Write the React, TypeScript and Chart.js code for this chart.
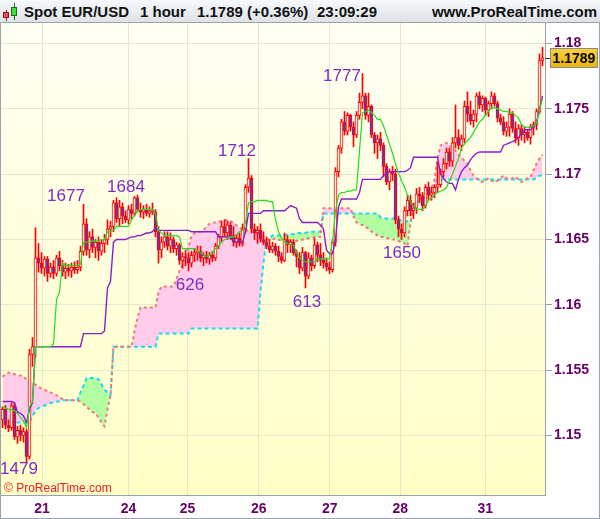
import React, { useEffect, useRef } from "react";
import { Chart, registerables } from "chart.js";

Chart.register(...registerables);

// Prices are written in 1/10000 units above 1.0000 (1523 means 1.1523).
const openPts = [
  1512, 1520, 1508, 1506, 1523, 1499, 1504, 1500, 1503, 1484,
  1562, 1568, 1636, 1632, 1628, 1635, 1624, 1629, 1624, 1636,
  1630, 1625, 1628, 1626, 1629, 1627, 1629, 1641, 1662, 1642,
  1652, 1644, 1648, 1641, 1647, 1650, 1658, 1660, 1678, 1666,
  1675, 1668, 1665, 1673, 1670, 1682, 1673, 1671, 1673, 1670,
  1672, 1671, 1656, 1642, 1648, 1652, 1645, 1650, 1643, 1646,
  1634, 1637, 1636, 1632, 1638, 1640, 1641, 1636, 1638, 1635,
  1638, 1636, 1645, 1652, 1660, 1655, 1661, 1653, 1648, 1651,
  1647, 1658, 1690, 1697, 1658, 1655, 1657, 1650, 1648, 1645,
  1642, 1645, 1641, 1637, 1634, 1650, 1646, 1648, 1640, 1637,
  1628, 1640, 1622, 1636, 1630, 1646, 1638, 1634, 1632, 1629,
  1627, 1648, 1702, 1720, 1740, 1733, 1745, 1736, 1730, 1745,
  1755, 1760, 1745, 1752, 1730, 1724, 1727, 1722, 1706, 1694,
  1702, 1700, 1665, 1658, 1655, 1672, 1680, 1672, 1674, 1685,
  1683, 1676, 1690, 1684, 1686, 1690, 1692, 1702, 1708, 1717,
  1710, 1724, 1728, 1722, 1727, 1752, 1746, 1741, 1746, 1760,
  1753, 1758, 1749, 1754, 1760, 1754, 1743, 1740, 1733, 1736,
  1746, 1735, 1728, 1735, 1730, 1732, 1728, 1736, 1738, 1748,
  1787,
];
const highPts = [
  1522, 1523, 1512, 1525, 1525, 1507, 1508, 1506, 1505, 1566,
  1575, 1659, 1647, 1640, 1637, 1637, 1632, 1634, 1638, 1641,
  1634, 1632, 1631, 1632, 1633, 1634, 1645, 1677, 1666, 1656,
  1658, 1650, 1652, 1650, 1654, 1665, 1664, 1680, 1682, 1680,
  1678, 1672, 1676, 1677, 1683, 1684, 1678, 1676, 1677, 1675,
  1678, 1673, 1660, 1652, 1656, 1656, 1655, 1652, 1648, 1647,
  1640, 1642, 1640, 1641, 1643, 1645, 1645, 1640, 1641, 1640,
  1641, 1647, 1654, 1664, 1665, 1664, 1663, 1660, 1654, 1655,
  1662, 1692, 1712, 1699, 1662, 1660, 1662, 1656, 1652, 1650,
  1648, 1647, 1645, 1640, 1655, 1653, 1650, 1650, 1642, 1640,
  1644, 1641, 1640, 1638, 1651, 1648, 1647, 1640, 1636, 1633,
  1650, 1705, 1722, 1742, 1748, 1747, 1746, 1740, 1748, 1762,
  1777, 1762, 1762, 1753, 1732, 1730, 1732, 1724, 1708, 1704,
  1706, 1704, 1668, 1662, 1675, 1684, 1684, 1678, 1689, 1690,
  1686, 1692, 1694, 1690, 1692, 1709, 1704, 1712, 1720, 1720,
  1728, 1753, 1734, 1730, 1756, 1763, 1756, 1749, 1762, 1763,
  1760, 1759, 1756, 1763, 1762, 1756, 1746, 1744, 1740, 1750,
  1748, 1740, 1738, 1738, 1736, 1734, 1738, 1740, 1750, 1792,
  1797,
];
const lowPts = [
  1506, 1505, 1503, 1504, 1497, 1494, 1496, 1495, 1479, 1482,
  1553, 1560, 1625, 1624, 1622, 1618, 1621, 1620, 1622, 1626,
  1622, 1620, 1622, 1621, 1624, 1624, 1626, 1638, 1638, 1636,
  1640, 1636, 1634, 1638, 1640, 1646, 1652, 1656, 1663, 1660,
  1662, 1663, 1662, 1666, 1668, 1671, 1667, 1666, 1668, 1667,
  1669, 1652, 1632, 1636, 1644, 1642, 1640, 1640, 1638, 1631,
  1628, 1630, 1626, 1629, 1633, 1634, 1633, 1630, 1632, 1631,
  1633, 1634, 1643, 1648, 1652, 1650, 1650, 1645, 1644, 1645,
  1645, 1655, 1686, 1655, 1650, 1647, 1648, 1646, 1643, 1640,
  1640, 1638, 1633, 1632, 1633, 1640, 1640, 1638, 1629, 1624,
  1626, 1613, 1620, 1626, 1628, 1633, 1630, 1628, 1626, 1624,
  1625, 1645, 1698, 1716, 1730, 1730, 1733, 1721, 1728, 1742,
  1750, 1742, 1740, 1728, 1716, 1712, 1718, 1698, 1692, 1688,
  1695, 1662, 1652, 1650, 1652, 1668, 1668, 1666, 1670, 1678,
  1672, 1674, 1680, 1680, 1682, 1686, 1690, 1698, 1704, 1706,
  1706, 1720, 1719, 1718, 1724, 1740, 1738, 1736, 1740, 1750,
  1748, 1745, 1744, 1750, 1752, 1740, 1738, 1730, 1729, 1729,
  1732, 1724, 1722, 1726, 1724, 1726, 1723, 1730, 1734, 1746,
  1783,
];
const closePts = [
  1520, 1508, 1506, 1523, 1499, 1504, 1500, 1503, 1484, 1562,
  1568, 1636, 1632, 1628, 1635, 1624, 1629, 1624, 1636, 1630,
  1625, 1628, 1626, 1629, 1627, 1629, 1641, 1662, 1642, 1652,
  1644, 1648, 1641, 1647, 1650, 1658, 1660, 1678, 1666, 1675,
  1668, 1665, 1673, 1670, 1682, 1673, 1671, 1673, 1670, 1672,
  1671, 1656, 1642, 1648, 1652, 1645, 1650, 1643, 1646, 1634,
  1637, 1636, 1632, 1638, 1640, 1641, 1636, 1638, 1635, 1638,
  1636, 1645, 1652, 1660, 1655, 1661, 1653, 1648, 1651, 1647,
  1658, 1690, 1697, 1658, 1655, 1657, 1650, 1648, 1645, 1642,
  1645, 1641, 1637, 1634, 1650, 1646, 1648, 1640, 1637, 1628,
  1640, 1622, 1636, 1630, 1646, 1638, 1634, 1632, 1629, 1627,
  1648, 1702, 1720, 1740, 1733, 1745, 1736, 1730, 1745, 1755,
  1760, 1745, 1752, 1730, 1724, 1727, 1722, 1706, 1694, 1702,
  1700, 1665, 1658, 1655, 1672, 1680, 1672, 1674, 1685, 1683,
  1676, 1690, 1684, 1686, 1690, 1692, 1702, 1708, 1717, 1710,
  1724, 1728, 1722, 1727, 1752, 1746, 1741, 1746, 1760, 1753,
  1758, 1749, 1754, 1760, 1754, 1743, 1740, 1733, 1736, 1746,
  1735, 1728, 1735, 1730, 1732, 1728, 1736, 1738, 1748, 1787,
  1789,
];
// Ichimoku lines (Tenkan green, Kijun purple, Senkou span A red dashed, span B cyan dashed)
const tenkanPts = [
  1522, 1521, 1520, 1520, 1519, 1517, 1514, 1511, 1506, 1522,
  1526, 1568, 1568, 1568, 1568, 1568, 1568, 1570, 1604, 1610,
  1632, 1630, 1630, 1630, 1630, 1630, 1631, 1648, 1648, 1648,
  1649, 1649, 1649, 1650, 1650, 1656, 1656, 1657, 1660, 1660,
  1660, 1660, 1660, 1665, 1668, 1672, 1673, 1673, 1673, 1673,
  1673, 1670, 1657, 1655, 1653, 1653, 1653, 1653, 1653, 1652,
  1643, 1643, 1643, 1643, 1643, 1642, 1640, 1638, 1637, 1638,
  1640, 1643, 1645, 1648, 1650, 1651, 1652, 1652, 1654, 1656,
  1657, 1663, 1678, 1679, 1679, 1680, 1680, 1680, 1680, 1679,
  1679, 1665, 1656, 1651, 1648, 1647, 1646, 1646, 1640, 1636,
  1634, 1633, 1633, 1633, 1633, 1635, 1635, 1635, 1635, 1635,
  1648, 1672, 1684, 1686, 1686, 1687, 1687, 1688, 1688, 1718,
  1747, 1748, 1749, 1747, 1745, 1742, 1742, 1737, 1730, 1723,
  1716, 1708, 1701, 1695, 1690, 1684, 1679, 1675, 1673, 1673,
  1673, 1676, 1680, 1682, 1684, 1686, 1687, 1688, 1690, 1695,
  1700, 1706, 1712, 1720, 1723, 1726, 1728, 1732, 1736, 1740,
  1742, 1745, 1748, 1751, 1751, 1750, 1749, 1748, 1748, 1747,
  1747, 1745, 1743, 1738, 1736, 1736, 1736, 1737, 1739, 1749,
  1758,
];
const kijunPts = [
  1526, 1526, 1526, 1526, 1525, 1518, 1517, 1515, 1510, 1520,
  1525, 1568, 1568, 1568, 1568, 1568, 1568, 1568, 1568, 1568,
  1568, 1568, 1568, 1568, 1568, 1568, 1568, 1578, 1578, 1578,
  1578, 1578, 1578, 1578, 1580, 1613, 1618, 1648, 1650, 1650,
  1650, 1650, 1651, 1652, 1652, 1653, 1653, 1654, 1655, 1655,
  1656, 1659, 1657, 1657, 1657, 1657, 1657, 1657, 1657, 1657,
  1657, 1657, 1657, 1656, 1656, 1656, 1656, 1656, 1656, 1656,
  1656, 1656, 1652, 1652, 1652, 1652, 1652, 1648, 1648, 1648,
  1648, 1656, 1670, 1670, 1670, 1670, 1670, 1672, 1672, 1672,
  1672, 1672, 1672, 1672, 1672, 1674, 1676, 1675, 1674, 1666,
  1663, 1663, 1663, 1663, 1663, 1663, 1661, 1658, 1642, 1639,
  1639, 1650, 1675, 1681, 1681, 1681, 1681, 1681, 1681, 1686,
  1696, 1696, 1696, 1696, 1696, 1696, 1696, 1699, 1701, 1702,
  1702, 1702, 1702, 1702, 1702, 1703, 1705, 1713, 1713, 1713,
  1713, 1713, 1713, 1713, 1713, 1713, 1700, 1697, 1694, 1693,
  1693, 1688, 1696, 1702, 1705, 1707, 1711, 1714, 1716, 1717,
  1717, 1717, 1717, 1717, 1717, 1717, 1717, 1722, 1723, 1724,
  1725, 1726, 1728, 1731, 1734, 1734, 1734, 1736, 1740, 1750,
  1760,
];
const spanAPts = [
  1545, 1547, 1548, 1548, 1547, 1546, 1546, 1545, 1543, 1541,
  1540, 1539, 1537, 1536, 1535, 1534, 1533, 1532, 1531, 1529,
  1528, 1527, 1527, 1527, 1527, 1527, 1526, 1524, 1522, 1520,
  1518, 1517, 1514, 1510, 1507, 1520, 1531, 1568, 1568, 1568,
  1568, 1568, 1568, 1568, 1580, 1590, 1598, 1598, 1598, 1598,
  1598, 1598, 1610, 1614, 1614, 1614, 1614, 1614, 1620, 1626,
  1631, 1636, 1644, 1653, 1655, 1656, 1656, 1657, 1660, 1662,
  1663, 1663, 1664, 1664, 1665, 1665, 1664, 1663, 1661, 1659,
  1658, 1657, 1657, 1656, 1656, 1655, 1654, 1652, 1650, 1650,
  1650, 1651, 1650, 1649, 1648, 1648, 1648, 1648, 1649, 1649,
  1650, 1650, 1651, 1651, 1652, 1652, 1652, 1674, 1674, 1674,
  1674, 1674, 1674, 1674, 1674, 1674, 1674, 1668, 1663, 1662,
  1661, 1660, 1658, 1656, 1655, 1653, 1652, 1652, 1651, 1651,
  1650, 1650, 1649, 1648, 1647, 1645, 1663, 1675, 1679, 1681,
  1683, 1685, 1687, 1689, 1696, 1712, 1722, 1723, 1724, 1722,
  1720, 1718, 1715, 1713, 1710, 1708, 1703, 1699, 1697, 1695,
  1694, 1695, 1697, 1695, 1694, 1695, 1697, 1699, 1697, 1696,
  1697, 1698, 1696, 1694, 1695, 1697, 1698, 1703, 1708, 1712,
  1715,
];
const spanBPts = [
  1510, 1510, 1510, 1510, 1510, 1510, 1510, 1510, 1510, 1510,
  1515, 1519, 1521, 1522, 1523, 1524, 1525, 1525, 1526, 1526,
  1527, 1527, 1527, 1527, 1527, 1527, 1533, 1538, 1544, 1544,
  1544, 1544, 1543, 1539, 1535, 1533, 1531, 1568, 1568, 1568,
  1568, 1568, 1568, 1568, 1568, 1568, 1568, 1568, 1568, 1568,
  1568, 1568, 1578, 1578, 1578, 1578, 1578, 1578, 1578, 1578,
  1578, 1578, 1578, 1582, 1582, 1582, 1582, 1582, 1582, 1582,
  1582, 1582, 1582, 1582, 1582, 1582, 1582, 1582, 1582, 1582,
  1582, 1582, 1582, 1582, 1582, 1582, 1610, 1632, 1650, 1651,
  1653, 1653, 1653, 1653, 1653, 1654, 1654, 1654, 1655, 1655,
  1655, 1655, 1656, 1656, 1656, 1656, 1656, 1670, 1670, 1670,
  1670, 1670, 1670, 1670, 1670, 1670, 1670, 1670, 1670, 1670,
  1670, 1670, 1670, 1670, 1670, 1670, 1667, 1666, 1666, 1666,
  1666, 1666, 1666, 1664, 1664, 1664, 1663, 1674, 1678, 1680,
  1682, 1684, 1686, 1688, 1690, 1696, 1696, 1696, 1696, 1696,
  1696, 1696, 1696, 1696, 1696, 1696, 1696, 1696, 1696, 1696,
  1696, 1696, 1696, 1696, 1696, 1696, 1696, 1696, 1696, 1696,
  1696, 1696, 1696, 1696, 1696, 1696, 1696, 1696, 1697, 1699,
  1699,
];

// x axis: day boundaries (in bar-index units) and their labels
const dayTickPos = [13.2, 42, 61.7, 85.4, 109.1, 132.6, 160.9];
const dayTickLabels = ["21", "24", "25", "26", "27", "28", "31"];

// marked highs / lows
const markText = ["1479", "1677", "1684", "1712", "626", "613", "1777", "1650"];
const markIndex = [8, 27, 45, 82, 62, 101, 120, 133];
const markPts = [1479, 1677, 1684, 1712, 1626, 1613, 1777, 1650];
// text offset in pixels from the marked extreme (layout only)
const markOffset = [
  [-7.5, 6.5], [-17.5, -8], [-11.5, -8], [-11.5, -7],
  [1.5, 14.5], [1.5, 14], [-20.5, 2.5], [0.5, 13.5],
];

const Y_MIN = 1.14545;
const Y_MAX = 1.18157;
const X_MAX = 180.8333;

const toPrice = (v: number) => 1 + v / 10000;
const AXIS_FONT = '"Liberation Sans", Arial, sans-serif';
const AXIS_COLOR = "#660066";
const FRAME = "#9aa3ab";

const bgPlugin = {
  id: "bgPlugin",
  beforeDraw(chart: any) {
    const { ctx, chartArea } = chart;
    const { left, top, right, bottom } = chartArea;
    ctx.save();
    ctx.fillStyle = "#ffffff";
    ctx.fillRect(0, 0, chart.width, chart.height);
    const g = ctx.createLinearGradient(0, top, 0, bottom);
    g.addColorStop(0, "#fffff4");
    g.addColorStop(1, "#ffffc6");
    ctx.fillStyle = g;
    ctx.fillRect(left, top, right - left, bottom - top);
    ctx.restore();
  },
};

const marksPlugin = {
  id: "marksPlugin",
  afterDatasetsDraw(chart: any) {
    const { ctx, scales } = chart;
    ctx.save();
    ctx.font = '17px "Liberation Sans", Arial, sans-serif';
    ctx.fillStyle = "#7d2bc4";
    ctx.textAlign = "center";
    ctx.textBaseline = "middle";
    markText.forEach((t, k) => {
      const x = scales.x.getPixelForValue(markIndex[k]) + markOffset[k][0];
      const y = scales.y.getPixelForValue(toPrice(markPts[k])) + markOffset[k][1];
      ctx.fillText(t, x, y);
    });
    ctx.restore();
  },
};

const overlayPlugin = {
  id: "overlayPlugin",
  afterDraw(chart: any) {
    const { ctx, scales, chartArea } = chart;
    ctx.save();
    // copyright
    ctx.font = '12px "Liberation Sans", Arial, sans-serif';
    ctx.fillStyle = "#ee1c24";
    ctx.textAlign = "left";
    ctx.textBaseline = "alphabetic";
    ctx.fillText("© ProRealTime.com", 4, chartArea.bottom - 3);
    // last price box
    const last = toPrice(closePts[closePts.length - 1]);
    const py = scales.y.getPixelForValue(last);
    ctx.strokeStyle = "#333";
    ctx.lineWidth = 1;
    ctx.beginPath();
    ctx.moveTo(chartArea.right, Math.round(py) + 0.5);
    ctx.lineTo(chartArea.right + 6, Math.round(py) + 0.5);
    ctx.stroke();
    const bx = 550.5, bw = 47, bh = 19;
    const by = Math.round(py - bh / 2) + 0.5;
    const g = ctx.createLinearGradient(0, by, 0, by + bh);
    g.addColorStop(0, "#f8d23a");
    g.addColorStop(1, "#e9b40c");
    ctx.fillStyle = g;
    ctx.fillRect(bx, by, bw, bh);
    ctx.strokeStyle = "#8a8a8a";
    ctx.strokeRect(bx, by, bw, bh);
    ctx.fillStyle = "#000";
    ctx.font = 'bold 14px "Liberation Sans", Arial, sans-serif';
    ctx.textAlign = "center";
    ctx.textBaseline = "middle";
    ctx.fillText(last.toFixed(4), bx + bw / 2, by + bh / 2 + 1);
    // outer frame
    ctx.strokeStyle = FRAME;
    ctx.beginPath();
    ctx.moveTo(0.5, 0);
    ctx.lineTo(0.5, chart.height);
    ctx.moveTo(0, chart.height - 0.5);
    ctx.lineTo(chart.width, chart.height - 0.5);
    ctx.moveTo(chart.width - 0.5, 0);
    ctx.lineTo(chart.width - 0.5, chart.height);
    ctx.stroke();
    ctx.restore();
  },
};

export default function App() {
  const canvasRef = useRef<HTMLCanvasElement | null>(null);

  useEffect(() => {
    document.body.style.margin = "0";
    const canvas = canvasRef.current;
    if (!canvas) return;
    const line = (pts: number[]) => pts.map((v, i) => ({ x: i, y: toPrice(v) }));
    const chart = new Chart(canvas, {
      type: "bar",
      data: {
        datasets: [
          {
            type: "line",
            label: "Tenkan",
            data: line(tenkanPts),
            borderColor: "#22dd22",
            borderWidth: 1.2,
            pointRadius: 0,
            fill: false,
            order: 0,
          },
          {
            type: "line",
            label: "Kijun",
            data: line(kijunPts),
            borderColor: "#8a1fc8",
            borderWidth: 1.4,
            pointRadius: 0,
            fill: false,
            order: 1,
          },
          {
            type: "bar",
            label: "Body",
            data: openPts.map((o, i) => ({ x: i, y: [toPrice(o), toPrice(closePts[i])] })),
            barThickness: 3,
            borderWidth: 1,
            borderColor: "#ff0000",
            borderSkipped: false,
            backgroundColor: (c: any) =>
              closePts[c.dataIndex] >= openPts[c.dataIndex] ? "#fffee4" : "#6a35b0",
            grouped: false,
            order: 2,
          },
          {
            type: "bar",
            label: "Wick",
            data: lowPts.map((l, i) => ({ x: i, y: [toPrice(l), toPrice(highPts[i])] })),
            barThickness: 1,
            borderWidth: 0,
            backgroundColor: "#ff0000",
            grouped: false,
            order: 3,
          },
          {
            type: "line",
            label: "Span A",
            data: line(spanAPts),
            borderColor: "#f07a7a",
            borderWidth: 2,
            borderDash: [3, 3],
            pointRadius: 0,
            fill: { target: 5, above: "#ffccea", below: "#b2ffa2" },
            order: 4,
          },
          {
            type: "line",
            label: "Span B",
            data: line(spanBPts),
            borderColor: "#22d8f0",
            borderWidth: 2,
            borderDash: [4, 3],
            pointRadius: 0,
            fill: false,
            order: 5,
          },
        ] as any,
      },
      options: {
        responsive: false,
        animation: false,
        devicePixelRatio: 1,
        events: [],
        layout: { padding: { left: 1, right: 0, top: 23, bottom: 0 } },
        plugins: {
          legend: { display: false },
          tooltip: { enabled: false },
          filler: { drawTime: "beforeDatasetsDraw" },
        } as any,
        scales: {
          x: {
            type: "linear",
            min: -0.5,
            max: X_MAX,
            bounds: "data",
            offset: false,
            afterBuildTicks: (s: any) => {
              s.ticks = dayTickPos.map((v) => ({ value: v }));
            },
            afterFit: (s: any) => {
              s.height = 24;
            },
            ticks: {
              autoSkip: false,
              maxRotation: 0,
              padding: 6,
              color: AXIS_COLOR,
              font: { family: AXIS_FONT, size: 14, weight: "bold" },
              callback: (_v: any, idx: number) => dayTickLabels[idx] ?? "",
            },
            grid: { color: "#e6e6cc", drawTicks: false, offset: false },
            border: { color: FRAME },
          },
          y: {
            type: "linear",
            position: "right",
            min: Y_MIN,
            max: Y_MAX,
            afterFit: (s: any) => {
              s.width = 55;
            },
            ticks: {
              stepSize: 0.005,
              includeBounds: false,
              padding: 2,
              color: AXIS_COLOR,
              font: { family: AXIS_FONT, size: 14, weight: "bold" },
              callback: (v: any) => String(Number(Number(v).toFixed(3))),
            },
            grid: { color: "#e6e6cc", tickColor: FRAME, tickLength: 7 },
            border: { color: FRAME },
          },
        } as any,
      },
      plugins: [bgPlugin, marksPlugin, overlayPlugin],
    });
    return () => chart.destroy();
  }, []);

  const headerText: React.CSSProperties = {
    position: "absolute",
    top: 1,
    lineHeight: "22px",
    whiteSpace: "nowrap",
  };

  return (
    <div style={{ position: "absolute", left: 0, top: 0, width: 600, height: 519, overflow: "hidden", background: "#fff" }}>
      <canvas ref={canvasRef} width={600} height={519} style={{ position: "absolute", left: 0, top: 0, width: 600, height: 519 }} />
      <div
        style={{
          position: "absolute",
          left: 0,
          top: 0,
          width: 600,
          height: 22,
          background: "linear-gradient(#f7f9fb, #dde2e7)",
          borderBottom: `1px solid ${FRAME}`,
          font: 'bold 15px "Liberation Sans", Arial, sans-serif',
          color: "#111",
        }}
      >
        <div style={{ position: "absolute", left: 6, top: 10, width: 1, height: 11, background: "#902020" }} />
        <div style={{ position: "absolute", left: 3, top: 12, width: 6, height: 6, boxSizing: "border-box", background: "#f05050", border: "1px solid #901818" }} />
        <div style={{ position: "absolute", left: 14, top: 3, width: 1, height: 17, background: "#1a6a1a" }} />
        <div style={{ position: "absolute", left: 11, top: 7, width: 6, height: 9, boxSizing: "border-box", background: "#38e038", border: "1px solid #177017" }} />
        <span style={{ ...headerText, left: 24 }}>Spot EUR/USD</span>
        <span style={{ ...headerText, left: 140 }}>1 hour</span>
        <span style={{ ...headerText, left: 197 }}>1.1789 (+0.36%)</span>
        <span style={{ ...headerText, left: 317 }}>23:09:29</span>
        <span style={{ ...headerText, right: 3 }}>www.ProRealTime.com</span>
      </div>
    </div>
  );
}
